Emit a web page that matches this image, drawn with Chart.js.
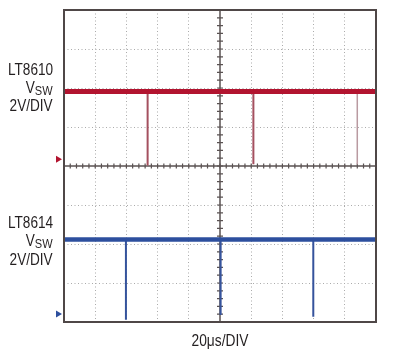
<!DOCTYPE html>
<html>
<head>
<meta charset="utf-8">
<script src="https://cdn.jsdelivr.net/npm/chart.js@4/dist/chart.umd.min.js"></script>
<style>
  html, body { margin: 0; padding: 0; background: #ffffff; }
  #wrap { position: relative; width: 397px; height: 357px; overflow: hidden; }
  #c { position: absolute; left: 0; top: 0; }
  .lbl { position: absolute; right: 344px; font-family: 'Liberation Sans', Arial, sans-serif;
         font-size: 16px; line-height: 16px; color: #231f20; white-space: nowrap; text-align: right;
         transform: scaleX(0.85); transform-origin: right center; }
  .lbl .sub { font-size: 13px; position: relative; top: 2px; }
  .xt { position: absolute; left: 0; width: 440px; top: 333px; text-align: center;
        font-family: 'Liberation Sans', Arial, sans-serif; font-size: 16px; line-height: 16px; color: #231f20;
        transform: scaleX(0.86); transform-origin: 220px center; }
</style>
</head>
<body>
<div id="wrap">
  <canvas id="c" width="397" height="357"></canvas>
  <div class="lbl" style="top:62px">LT8610</div>
  <div class="lbl" style="top:80px">V<span class="sub">SW</span></div>
  <div class="lbl" style="top:98px">2V/DIV</div>
  <div class="lbl" style="top:215px">LT8614</div>
  <div class="lbl" style="top:233px">V<span class="sub">SW</span></div>
  <div class="lbl" style="top:252px">2V/DIV</div>
  <div class="xt">20μs/DIV</div>
</div>
<script>
// ---- data (time in µs, voltage in V) ----
const timeSpan = [0, 200];             // 20µs/DIV, 10 divisions
const voltsPerDiv = 2;                 // 2V/DIV
const lt8610Level = [3.48, 3.48];      // VSW high level across the sweep
const lt8610SpikeTimes = [53.6, 121.4, 188.0];
const lt8610SpikeMins = [-0.32, -0.25, -0.25];
const lt8614Level = [3.82, 3.82];
const lt8614SpikeTimes = [39.7, 100.4, 159.8];
const lt8614SpikeMins = [-0.30, -0.05, -0.14];
// ground reference of each channel, in divisions from the bottom of the screen
const lt8610Ground = 4.17;
const lt8614Ground = 0.205;

function toDiv(v, ground) { return ground + v / voltsPerDiv; }

function traceData(level, ground) {
  return timeSpan.map((t, i) => ({ x: t, y: toDiv(level[i], ground) }));
}
function spikeData(times, mins, level, ground, idx) {
  const pts = [];
  idx.forEach(i => {
    pts.push({ x: times[i], y: toDiv(level[0], ground) });
    pts.push({ x: times[i], y: toDiv(mins[i], ground) });
    pts.push({ x: times[i], y: null });
  });
  return pts;
}

const RED = '#b2142f';
const BLUE = '#2d4f9e';

const scopePlugin = {
  id: 'scope',
  beforeDatasetsDraw(chart) {
    const { ctx, chartArea: a, scales: { x, y } } = chart;
    ctx.save();
    const cx = x.getPixelForValue(100);
    const cy = y.getPixelForValue(4);
    ctx.strokeStyle = '#5a5252';
    ctx.lineWidth = 1.5;
    ctx.beginPath();
    ctx.moveTo(a.left, cy); ctx.lineTo(a.right, cy);
    ctx.moveTo(cx, a.top); ctx.lineTo(cx, a.bottom);
    ctx.stroke();
    ctx.lineWidth = 1.2;
    ctx.beginPath();
    for (let t = 4; t < 200; t += 4) {
      const px = x.getPixelForValue(t);
      ctx.moveTo(px, cy - 2.5); ctx.lineTo(px, cy + 2.5);
    }
    for (let d = 0.2; d < 8; d += 0.2) {
      const py = y.getPixelForValue(d);
      ctx.moveTo(cx - 3, py); ctx.lineTo(cx + 3, py);
    }
    ctx.stroke();
    ctx.restore();
  },
  afterDraw(chart) {
    const { ctx, chartArea: a, scales: { y } } = chart;
    ctx.save();
    ctx.strokeStyle = '#4f4747';
    ctx.lineWidth = 2;
    ctx.strokeRect(a.left, a.top, a.right - a.left, a.bottom - a.top);
    [[lt8610Ground, RED], [lt8614Ground, BLUE]].forEach(([g, col]) => {
      const py = y.getPixelForValue(g);
      ctx.fillStyle = col;
      ctx.beginPath();
      ctx.moveTo(a.left - 8, py - 3.5);
      ctx.lineTo(a.left - 2, py);
      ctx.lineTo(a.left - 8, py + 3.5);
      ctx.closePath();
      ctx.fill();
    });
    ctx.restore();
  }
};

new Chart(document.getElementById('c'), {
  type: 'line',
  data: {
    datasets: [
      { data: traceData(lt8610Level, lt8610Ground), borderColor: RED, borderWidth: 5 },
      { data: traceData(lt8614Level, lt8614Ground), borderColor: BLUE, borderWidth: 4.5 },
      { data: spikeData(lt8610SpikeTimes, lt8610SpikeMins, lt8610Level, lt8610Ground, [0, 1]), borderColor: '#a4505f', borderWidth: 2 },
      { data: spikeData(lt8610SpikeTimes, lt8610SpikeMins, lt8610Level, lt8610Ground, [2]), borderColor: '#b99aa1', borderWidth: 1.5 },
      { data: spikeData(lt8614SpikeTimes, lt8614SpikeMins, lt8614Level, lt8614Ground, [0, 1, 2]), borderColor: '#35539c', borderWidth: 2 }
    ]
  },
  options: {
    responsive: false,
    animation: false,
    events: [],
    layout: { padding: { left: 64, right: 21, top: 10, bottom: 35 } },
    elements: { point: { radius: 0 }, line: { tension: 0, borderCapStyle: 'butt' } },
    datasets: { line: { spanGaps: false, fill: false } },
    plugins: { legend: { display: false }, tooltip: { enabled: false } },
    scales: {
      x: {
        type: 'linear', min: 0, max: 200,
        ticks: { display: false, stepSize: 20 },
        grid: {
          drawTicks: false,
          color: c => (c.tick && (c.tick.value === 0 || c.tick.value === 100 || c.tick.value === 200)) ? 'rgba(0,0,0,0)' : '#ababab',
          lineWidth: 1
        },
        border: { display: false, dash: [1, 2.5] }
      },
      y: {
        type: 'linear', min: 0, max: 8,
        ticks: { display: false, stepSize: 1 },
        grid: {
          drawTicks: false,
          color: c => (c.tick && (c.tick.value === 0 || c.tick.value === 4 || c.tick.value === 8)) ? 'rgba(0,0,0,0)' : '#ababab',
          lineWidth: 1
        },
        border: { display: false, dash: [1, 2.5] }
      }
    }
  },
  plugins: [scopePlugin]
});
</script>
</body>
</html>
